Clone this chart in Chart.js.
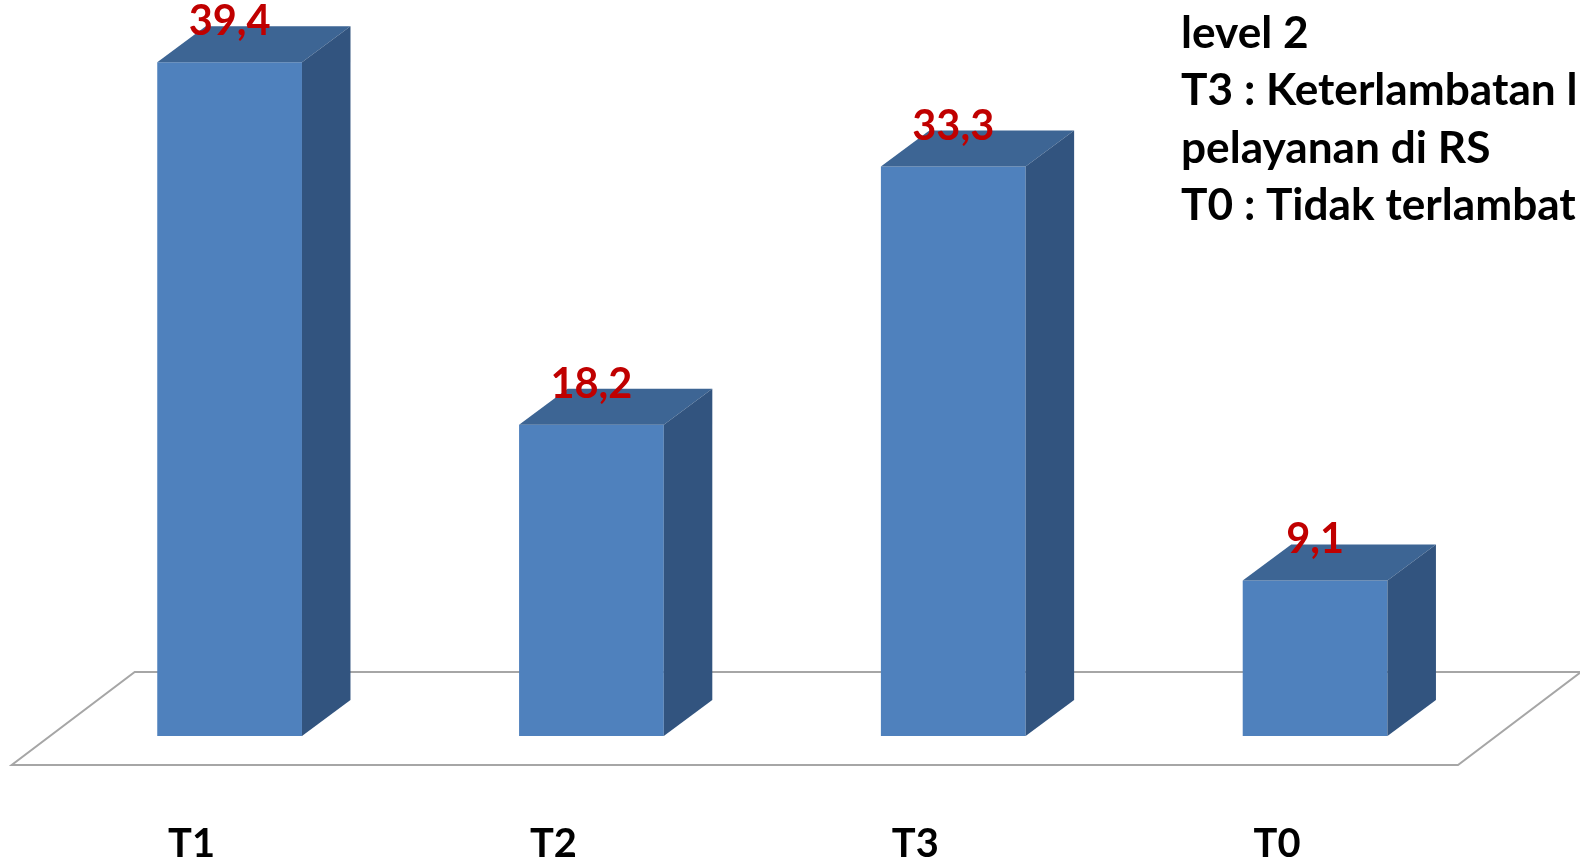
<!DOCTYPE html>
<html><head><meta charset="utf-8">
<script src="https://cdn.jsdelivr.net/npm/chart.js@4.4.1/dist/chart.umd.min.js"></script>
<style>html,body{margin:0;padding:0;background:#ffffff;overflow:hidden}#wrap{width:1580px;height:860px;position:relative}</style>
</head><body><div id="wrap"><canvas id="c" width="1580" height="860"></canvas></div>
<script>
const categories = ['T1', 'T2', 'T3', 'T0'];
const values = [39.4, 18.2, 33.3, 9.1];
const valueLabels = ['39,4', '18,2', '33,3', '9,1'];
const noteLines = ['level 2', 'T3 : Keterlambatan l', 'pelayanan di RS', 'T0 : Tidak terlambat'];

const FAMILY = 'Lato, "Open Sans", sans-serif';
function fitSize(text, target) {
  const c = document.createElement('canvas').getContext('2d');
  c.font = 'bold 100px ' + FAMILY;
  return 100 * target / c.measureText(text).width;
}
const noteSize = fitSize('T0 : Tidak terlambat', 395);
const valueSize = fitSize('18,2', 82);
const tickSize = fitSize('T1', 47);

const COLORS = { front: '#4F81BD', top: '#3D6594', side: '#32547F', value: '#C00000', floor: '#A6A6A6' };
const BAR_DEPTH = { dx: 48.5, dy: -36 };

const threeD = {
  id: 'threeD',
  beforeDatasetsDraw(chart) {
    const { ctx, chartArea: a } = chart;
    ctx.save();
    ctx.strokeStyle = COLORS.floor;
    ctx.lineWidth = 2;
    ctx.beginPath();
    ctx.moveTo(a.left - 37, a.bottom + 29);
    ctx.lineTo(a.right - 38, a.bottom + 29);
    ctx.lineTo(a.right + 85, a.bottom - 64);
    ctx.lineTo(a.left + 86, a.bottom - 64);
    ctx.closePath();
    ctx.stroke();
    ctx.restore();
  },
  afterDatasetsDraw(chart) {
    const { ctx } = chart;
    const meta = chart.getDatasetMeta(0);
    const { dx, dy } = BAR_DEPTH;
    ctx.save();
    meta.data.forEach((bar, i) => {
      const p = bar.getProps(['x', 'y', 'base', 'width'], true);
      const l = p.x - p.width / 2, r = p.x + p.width / 2;
      ctx.fillStyle = COLORS.top;
      ctx.beginPath();
      ctx.moveTo(l, p.y); ctx.lineTo(r, p.y); ctx.lineTo(r + dx, p.y + dy); ctx.lineTo(l + dx, p.y + dy);
      ctx.closePath(); ctx.fill();
      ctx.fillStyle = COLORS.side;
      ctx.beginPath();
      ctx.moveTo(r, p.y); ctx.lineTo(r + dx, p.y + dy); ctx.lineTo(r + dx, p.base + dy); ctx.lineTo(r, p.base);
      ctx.closePath(); ctx.fill();
    });
    ctx.fillStyle = COLORS.value;
    ctx.font = 'bold ' + valueSize.toFixed(1) + 'px ' + FAMILY;
    ctx.textAlign = 'center';
    ctx.textBaseline = 'alphabetic';
    meta.data.forEach((bar, i) => {
      ctx.fillText(valueLabels[i], bar.x, bar.y - 27);
    });
    ctx.restore();
  },
  afterDraw(chart) {
    const { ctx } = chart;
    ctx.save();
    ctx.fillStyle = '#000000';
    ctx.font = 'bold ' + noteSize.toFixed(1) + 'px ' + FAMILY;
    ctx.textAlign = 'left';
    ctx.textBaseline = 'alphabetic';
    noteLines.forEach((t, i) => ctx.fillText(t, 1181, 47.5 + i * 57.5));
    ctx.restore();
  }
};

new Chart(document.getElementById('c'), {
  type: 'bar',
  data: {
    labels: categories,
    datasets: [{ data: values, backgroundColor: COLORS.front, borderWidth: 0, barPercentage: 0.4, categoryPercentage: 1.0 }]
  },
  options: {
    responsive: false,
    animation: false,
    layout: { padding: { left: 48.7, right: 84, top: 52, bottom: 0 } },
    plugins: { legend: { display: false }, tooltip: { enabled: false } },
    scales: {
      y: { display: false, min: 0, max: 40 },
      x: {
        grid: { display: false },
        border: { display: false },
        ticks: { color: '#000000', font: { family: FAMILY, weight: 'bold', size: tickSize, lineHeight: 1 }, padding: 80, labelOffset: -38, maxRotation: 0 },
        afterFit(scale) { scale.height = 124; }
      }
    }
  },
  plugins: [threeD]
});
</script>
</body></html>
